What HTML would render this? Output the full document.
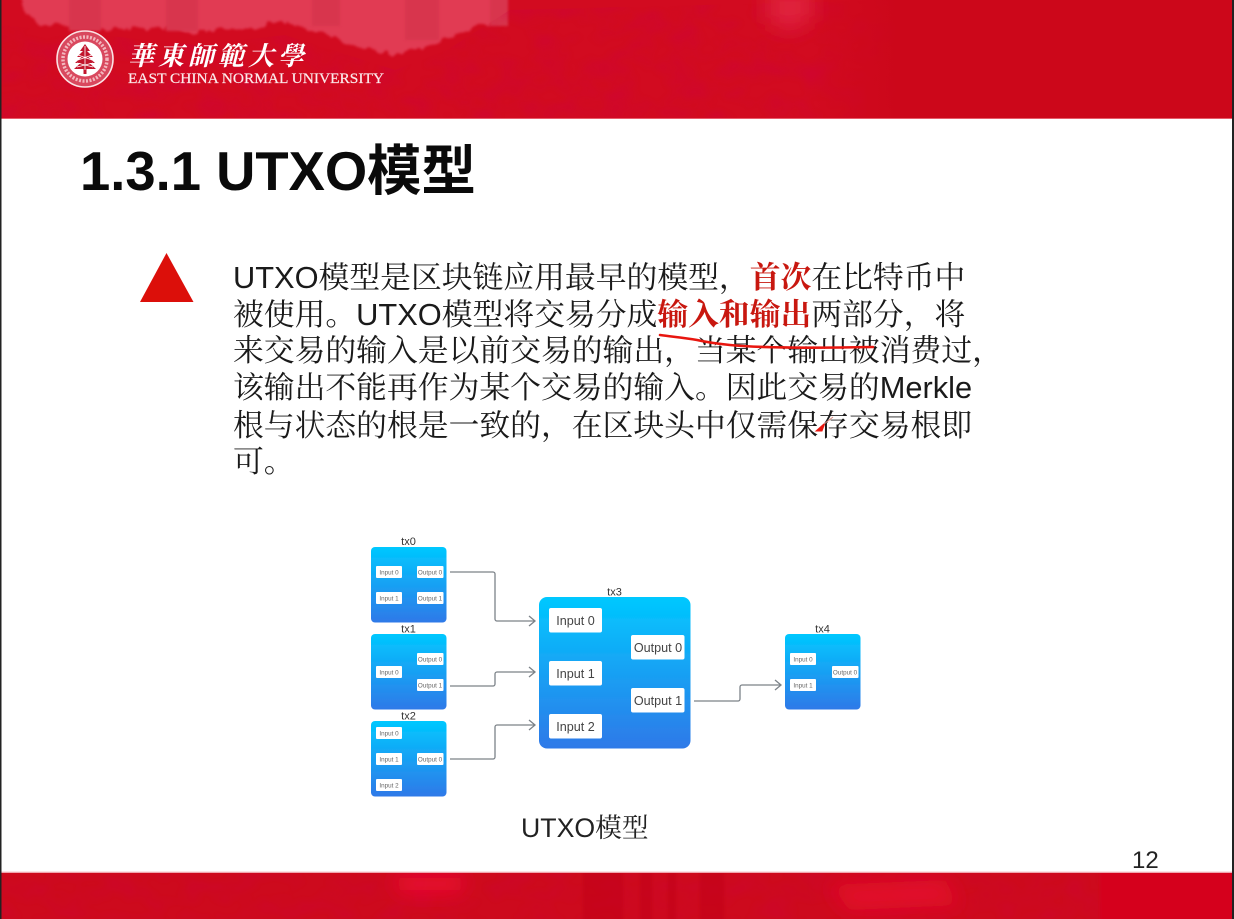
<!DOCTYPE html>
<html lang="zh"><head><meta charset="utf-8"><title>UTXO</title>
<style>
html,body{margin:0;padding:0;background:#fff}
#p{position:relative;width:1234px;height:919px;overflow:hidden;background:#fff;font-family:"Liberation Sans","Noto Sans CJK SC",sans-serif}
.l{position:absolute;left:233px;white-space:nowrap;font-size:30.8px;line-height:36px;color:#1a1a1a;font-family:"Liberation Sans","Noto Serif CJK SC",serif}
.r{color:#c8170f;font-weight:700}
svg{position:absolute;left:0;top:0}
</style></head><body><div id="p">
<svg width="1234" height="919" viewBox="0 0 1234 919" xmlns="http://www.w3.org/2000/svg">
<defs>
<filter id="n" x="0" y="0" width="100%" height="100%"><feTurbulence type="fractalNoise" baseFrequency="0.03 0.05" numOctaves="3" seed="5"/><feColorMatrix values="0 0 0 0 0.62  0 0 0 0 0  0 0 0 0 0.05  1.6 0 0 0 -0.66"/><feGaussianBlur stdDeviation="2"/></filter>
<filter id="b" x="-10%" y="-30%" width="120%" height="160%"><feTurbulence type="fractalNoise" baseFrequency="0.06" numOctaves="3" seed="9" result="tb"/><feDisplacementMap in="SourceGraphic" in2="tb" scale="16" xChannelSelector="R" yChannelSelector="G"/><feGaussianBlur stdDeviation="1.400"/></filter>
<filter id="w" x="-30%" y="-30%" width="160%" height="160%"><feGaussianBlur stdDeviation="1.200"/></filter>
<filter id="b2" x="-60%" y="-100%" width="220%" height="300%"><feGaussianBlur stdDeviation="10"/></filter>
<filter id="t"><feGaussianBlur stdDeviation=".3"/></filter>
<linearGradient id="g" x1="0" y1="0" x2="0" y2="1"><stop offset="0" stop-color="#00c8ff"/><stop offset="1" stop-color="#2f79e8"/></linearGradient>
<linearGradient id="fade" x1="0" y1="0" x2="1" y2="0"><stop offset="0" stop-color="#cc071a" stop-opacity="0"/><stop offset="1" stop-color="#cc071a"/></linearGradient>
<clipPath id="hc"><path d="M0 25L198 45 285 35 395 70 447 50 510 10 900 0V119H0Z"/></clipPath>
</defs>
<!-- header -->
<svg x="0" y="0" width="1234" height="119" viewBox="0 0 1234 119">
<rect width="1234" height="119" fill="#d20b20"/>
<path filter="url(#b)" fill="#e13a52" d="M24 -10V13L40 23 120 29 198 32 240 27 285 22 340 40 395 57 447 37 494 20 510 -10Z"/>
<g filter="url(#w)" fill="#d8354e">
<rect x="69" y="-4" width="32" height="35"/><rect x="166" y="-4" width="32" height="35"/><rect x="312" y="-4" width="28" height="30"/><rect x="405" y="-4" width="34" height="44"/><rect x="490" y="-4" width="18" height="30"/>
</g>
<rect width="1234" height="119" filter="url(#n)" clip-path="url(#hc)" opacity=".6"/>
<path filter="url(#b2)" fill="#e0233c" d="M768 -10H812V20L790 30 768 22Z"/>
<rect x="810" y="0" width="90" height="119" fill="url(#fade)"/>
<rect x="900" y="0" width="334" height="119" fill="#cc071a"/>
<rect y="118.300" width="1234" height="1.200" fill="#f0808c"/>
</svg>
<!-- footer -->
<svg x="0" y="873" width="1234" height="46" viewBox="0 873 1234 46">
<rect y="873" width="1234" height="46" fill="#cd0a1d"/>
<rect y="873" width="1234" height="46" filter="url(#n)" opacity=".45"/>
<g filter="url(#b2)"><path d="M394 876L465 876 460 892 400 892Z" fill="#f01030"/><path d="M827 885L945 880 960 905 850 910Z" fill="#e40d2a"/></g>
<g fill="#c00619" opacity=".45" filter="url(#w)"><rect x="583" y="870" width="40" height="52"/><rect x="640" y="870" width="12" height="52"/><rect x="668" y="870" width="8" height="52"/><rect x="700" y="870" width="24" height="52"/></g>
<rect x="1100" y="870" width="134" height="52" fill="#d5061f" filter="url(#w)"/>
</svg>
<rect y="871.700" width="1234" height="1.300" fill="#f0a6ae"/>
<!-- logo -->
<circle cx="85" cy="59" r="28.500" fill="#d9485e"/>
<circle cx="85" cy="59" r="28" fill="none" stroke="#fbe3e5" stroke-width="1.600"/>
<circle cx="85" cy="59" r="22" fill="none" stroke="#fbdcdf" stroke-width="3.500" stroke-dasharray="2 1.500" opacity=".75"/>
<circle cx="85" cy="59" r="17.500" fill="#fff"/>
<g fill="#c2152d"><path d="M85 44L80 51H90ZM85 49L77 57H93ZM85 54L75 63H95ZM85 59L74 69H96Z"/><rect x="83.500" y="66" width="3" height="8"/></g>
<g fill="none" stroke="#fff" stroke-width=".8"><path d="M85 46V70M78 55L92 60M92 55L78 60M77 63L93 67M93 63L77 67"/></g>
<!-- logo text -->
<text x="128" y="65" font-family="'Noto Serif CJK TC','Noto Serif CJK SC',serif" font-weight="700" font-size="26" fill="#fff" textLength="176" lengthAdjust="spacing" font-style="italic">華東師範大學</text>
<text x="128" y="83" font-family="'Liberation Serif',serif" font-size="14.500" fill="#fbe9ea" stroke="#fbe9ea" stroke-width=".2" textLength="256" lengthAdjust="spacingAndGlyphs">EAST CHINA NORMAL UNIVERSITY</text>
<!-- title -->
<text x="80" y="190" font-family="'Liberation Sans','Noto Sans CJK SC',sans-serif" font-weight="700" font-size="54.400" fill="#0a0a0a">1.3.1 UTXO模型</text>
<!-- bullet -->
<path d="M166.500 253L193.500 302H140Z" fill="#dc0f0a"/>
<!-- edges -->
<rect x="0" y="0" width="1.500" height="919" fill="#222"/>
<rect x="1232" y="0" width="2" height="919" fill="#222"/>
<!-- diagram -->
<g id="d">
<g filter="url(#t)">
<rect x="371" y="547" width="75.500" height="75.500" rx="4" fill="url(#g)"/>
<rect x="371" y="634" width="75.500" height="75.500" rx="4" fill="url(#g)"/>
<rect x="371" y="721" width="75.500" height="75.500" rx="4" fill="url(#g)"/>
<rect x="539" y="597" width="151.500" height="151.500" rx="8" fill="url(#g)"/>
<rect x="785" y="634" width="75.500" height="75.500" rx="4" fill="url(#g)"/>
<g fill="#fff">
<rect x="376" y="566" width="26" height="12" rx="1"/><rect x="376" y="592" width="26" height="12" rx="1"/><rect x="417" y="566" width="26.500" height="12" rx="1"/><rect x="417" y="592" width="26.500" height="12" rx="1"/>
<rect x="376" y="666" width="26" height="12" rx="1"/><rect x="417" y="653" width="26.500" height="12" rx="1"/><rect x="417" y="679" width="26.500" height="12" rx="1"/>
<rect x="376" y="727" width="26" height="12" rx="1"/><rect x="376" y="753" width="26" height="12" rx="1"/><rect x="376" y="779" width="26" height="12" rx="1"/><rect x="417" y="753" width="26.500" height="12" rx="1"/>
<rect x="549" y="608" width="53" height="24.500" rx="2"/><rect x="549" y="661" width="53" height="24.500" rx="2"/><rect x="549" y="714" width="53" height="24.500" rx="2"/>
<rect x="631" y="635" width="53.500" height="24.500" rx="2"/><rect x="631" y="688" width="53.500" height="24.500" rx="2"/>
<rect x="790" y="653" width="26" height="12" rx="1"/><rect x="790" y="679" width="26" height="12" rx="1"/><rect x="832" y="666" width="26.500" height="12" rx="1"/>
</g>
</g>
<g font-family="'Liberation Sans',sans-serif" fill="#666" font-size="6.300" text-anchor="middle">
<text x="389" y="574.500">Input 0</text><text x="389" y="600.500">Input 1</text><text x="430" y="574.500">Output 0</text><text x="430" y="600.500">Output 1</text>
<text x="389" y="674.500">Input 0</text><text x="430" y="661.500">Output 0</text><text x="430" y="687.500">Output 1</text>
<text x="389" y="735.500">Input 0</text><text x="389" y="761.500">Input 1</text><text x="389" y="787.500">Input 2</text><text x="430" y="761.500">Output 0</text>
<text x="803" y="661.500">Input 0</text><text x="803" y="687.500">Input 1</text><text x="845" y="674.500">Output 0</text>
</g>
<g font-family="'Liberation Sans',sans-serif" fill="#444" font-size="12.600" text-anchor="middle">
<text x="575.500" y="625">Input 0</text><text x="575.500" y="678">Input 1</text><text x="575.500" y="731">Input 2</text>
<text x="658" y="652">Output 0</text><text x="658" y="705">Output 1</text>
</g>
<g font-family="'Liberation Sans',sans-serif" fill="#333" font-size="11" text-anchor="middle">
<text x="408.500" y="545">tx0</text><text x="408.500" y="632.500">tx1</text><text x="408.500" y="719.500">tx2</text><text x="614.500" y="595.500">tx3</text><text x="822.500" y="632.500">tx4</text>
</g>
<g fill="none" stroke="#7b8288" stroke-width="1.300" filter="url(#t)">
<path d="M450 572H493a2 2 0 0 1 2 2V619a2 2 0 0 0 2 2H535"/><path d="M529 616L535 621 529 626"/>
<path d="M450 686H493a2 2 0 0 0 2-2V674a2 2 0 0 1 2-2H535"/><path d="M529 667L535 672 529 677"/>
<path d="M450 759H493a2 2 0 0 0 2-2V727a2 2 0 0 1 2-2H535"/><path d="M529 720L535 725 529 730"/>
<path d="M694 701H738a2 2 0 0 0 2-2V687a2 2 0 0 1 2-2H781"/><path d="M775 680L781 685 775 690"/>
</g>
</g>
<!-- caption -->
<text x="521" y="837" font-family="'Liberation Sans','Noto Serif CJK SC',serif" font-size="26.700" fill="#222">UTXO模型</text>
<text x="1132" y="868" font-family="'Liberation Sans',sans-serif" font-size="24" fill="#222">12</text>
</svg>
<div class="l" style="top:260px">UTXO模型是区块链应用最早的模型，<span class="r">首次</span>在比特币中</div>
<div class="l" style="top:297px">被使用。UTXO模型将交易分成<span class="r">输入和输出</span>两部分，将</div>
<div class="l" style="top:333px">来交易的输入是以前交易的输出，当某个输出被消费过，</div>
<div class="l" style="top:370px">该输出不能再作为某个交易的输入。因此交易的Merkle</div>
<div class="l" style="top:408px">根与状态的根是一致的，在区块头中仅需保存交易根即</div>
<div class="l" style="top:444px">可。</div>
<svg width="1234" height="919" viewBox="0 0 1234 919" xmlns="http://www.w3.org/2000/svg">
<path d="M660 335C675 337 685 338 697 340C710 343 720 344 730 345C760 348 820 348 873 347" fill="none" stroke="#e8160f" stroke-width="2.600" stroke-linecap="round"/>
<path d="M816 431L825 423 822 431Z" fill="#e8160f" stroke="#e8160f"/>
<path d="M824 424L833 417" stroke="#d98a80" stroke-width="1"/>
</svg>
</div></body></html>
